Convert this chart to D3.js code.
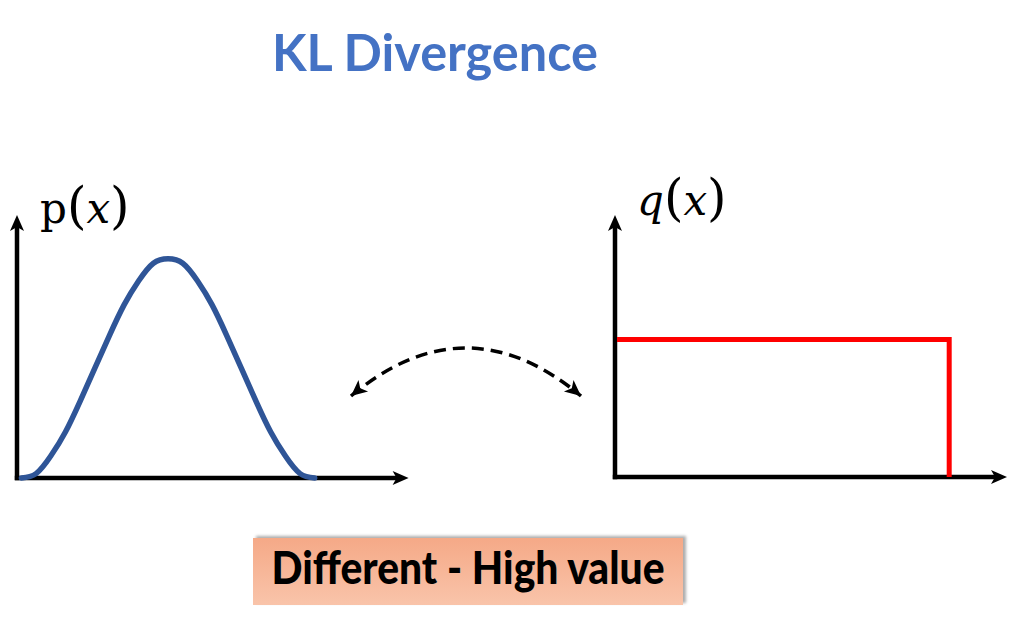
<!DOCTYPE html>
<html><head><meta charset="utf-8">
<script src="https://cdn.jsdelivr.net/npm/d3@7"></script>
<style>html,body{margin:0;padding:0;background:#fff;}svg{display:block;}</style>
</head><body>
<script>
// ---- data ----
const titleText = "KL Divergence";
const resultText = "Different - High value";
const pX = [0,1,2,3,4,5,6,7,8,9,10,11,12,13,14,15,16,17,18,19,20];
const pY = [0,0.02,0.10,0.21,0.35,0.50,0.65,0.79,0.90,0.98,1.00,0.98,0.90,0.79,0.65,0.50,0.35,0.21,0.10,0.02,0];
const qX = [0,10,10];
const qY = [0.63,0.63,0];
const yMax = 1.2;

const W = 1024, H = 630;
const svg = d3.select("body").append("svg").attr("width", W).attr("height", H);
const defs = svg.append("defs");

// markers
defs.append("marker").attr("id","axisHead").attr("markerUnits","userSpaceOnUse")
  .attr("viewBox","-10 -10 20 20").attr("markerWidth",20).attr("markerHeight",20)
  .attr("refX",0).attr("refY",0).attr("orient","auto")
  .append("path").attr("d","M8,0 L-8,-7 L-4,0 L-8,7 Z").attr("fill","#000");
defs.append("marker").attr("id","dashHead").attr("markerUnits","userSpaceOnUse")
  .attr("viewBox","-18 -10 22 20").attr("markerWidth",22).attr("markerHeight",20)
  .attr("refX",0).attr("refY",0).attr("orient","auto-start-reverse")
  .append("path").attr("d","M0,0 L-16,-7.5 L-12,0 L-16,7.5 Z").attr("fill","#000");

const grad = defs.append("linearGradient").attr("id","boxGrad").attr("x1",0).attr("y1",0).attr("x2",0).attr("y2",1);
grad.append("stop").attr("offset","0%").attr("stop-color","#f5a987");
grad.append("stop").attr("offset","100%").attr("stop-color","#f9c4aa");
const blur = defs.append("filter").attr("id","shadowBlur").attr("x","-10%").attr("y","-30%").attr("width","120%").attr("height","160%");
blur.append("feGaussianBlur").attr("stdDeviation",1.5);

// title
svg.append("text").attr("x",435).attr("y",71).attr("text-anchor","middle")
  .attr("font-family","Lato, 'Open Sans', sans-serif").attr("font-weight",700)
  .attr("font-size",52).attr("fill","#4472c4")
  .attr("textLength",326).attr("lengthAdjust","spacingAndGlyphs")
  .text(titleText);

// ---- left chart p(x) ----
const xL = d3.scaleLinear().domain([-0.3, 26.4]).range([17, 408.6]);
const yL = d3.scaleLinear().domain([0, yMax]).range([478, 215]);
const gL = svg.append("g");
gL.append("line").attr("x1",xL(-0.3)).attr("y1",yL(0)+2.2).attr("x2",xL(-0.3)).attr("y2",yL(yMax)+8)
  .attr("stroke","#000").attr("stroke-width",4.5).attr("marker-end","url(#axisHead)");
gL.append("line").attr("x1",xL(-0.3)-2.2).attr("y1",yL(0)).attr("x2",xL(26.4)-8).attr("y2",yL(0))
  .attr("stroke","#000").attr("stroke-width",4.5).attr("marker-end","url(#axisHead)");
const lineP = d3.line().x((d,i)=>xL(pX[i])).y(d=>yL(d)).curve(d3.curveNatural);
gL.append("path").attr("d",lineP(pY)).attr("fill","none").attr("stroke","#2f5597")
  .attr("stroke-width",5.5).attr("stroke-linecap","round");

// ---- right chart q(x) ----
const xR = d3.scaleLinear().domain([0, 11.8]).range([615, 1007]);
const yR = d3.scaleLinear().domain([0, yMax]).range([477, 215]);
const gR = svg.append("g");
gR.append("line").attr("x1",xR(0)).attr("y1",yR(0)+2.2).attr("x2",xR(0)).attr("y2",yR(yMax)+8)
  .attr("stroke","#000").attr("stroke-width",4.5).attr("marker-end","url(#axisHead)");
gR.append("line").attr("x1",xR(0)-2.2).attr("y1",yR(0)).attr("x2",xR(11.8)-8).attr("y2",yR(0))
  .attr("stroke","#000").attr("stroke-width",4.5).attr("marker-end","url(#axisHead)");
const lineQ = d3.line().x((d,i)=>xR(qX[i])).y(d=>yR(d));
gR.append("path").attr("d",lineQ(qY)).attr("transform","translate(2,0)").attr("fill","none").attr("stroke","#ff0000")
  .attr("stroke-width",5).attr("stroke-linejoin","miter");

// labels
const serif = "'DejaVu Serif', 'Liberation Serif', serif";
const lp = svg.append("text").attr("x",40).attr("y",223).attr("font-family",serif).attr("font-size",42).attr("fill","#000");
lp.append("tspan").text("p");
lp.append("tspan").attr("font-size",50).text("(");
lp.append("tspan").attr("font-style","italic").text("x");
lp.append("tspan").attr("font-size",50).text(")");
const lq = svg.append("text").attr("x",637).attr("y",215).attr("font-family",serif).attr("font-size",42).attr("fill","#000");
lq.append("tspan").attr("font-style","italic").text("q");
lq.append("tspan").attr("font-size",50).text("(");
lq.append("tspan").attr("font-style","italic").text("x");
lq.append("tspan").attr("font-size",50).text(")");

// dashed double arrow
const arc = d3.path();
arc.moveTo(351, 396);
arc.quadraticCurveTo(466, 300, 581, 396);
svg.append("path").attr("d",arc.toString()).attr("fill","none").attr("stroke","#000")
  .attr("stroke-width",3.5).attr("stroke-dasharray","12,7")
  .attr("marker-start","url(#dashHead)").attr("marker-end","url(#dashHead)");

// result box
svg.append("rect").attr("x",256).attr("y",536).attr("width",430).attr("height",67)
  .attr("fill","#8a8a8a").attr("opacity",0.7).attr("filter","url(#shadowBlur)");
svg.append("rect").attr("x",253).attr("y",538).attr("width",430).attr("height",67).attr("fill","url(#boxGrad)");
svg.append("text").attr("x",468).attr("y",584).attr("text-anchor","middle")
  .attr("font-family","Lato, 'Open Sans', sans-serif").attr("font-weight",900)
  .attr("font-size",46).attr("fill","#000")
  .attr("textLength",393).attr("lengthAdjust","spacingAndGlyphs")
  .text(resultText);
</script>
</body></html>
